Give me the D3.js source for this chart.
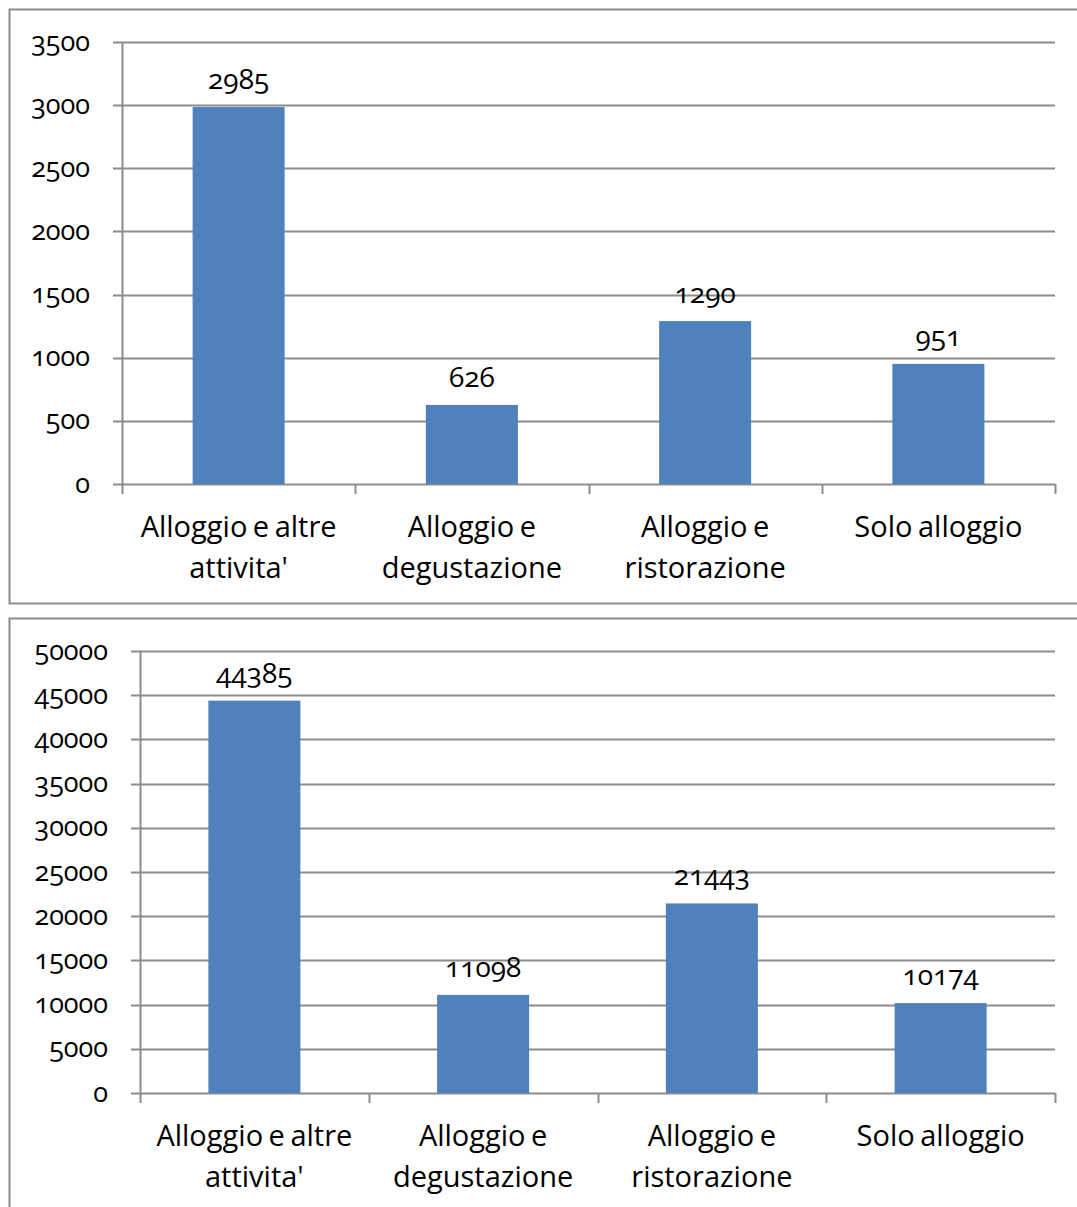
<!DOCTYPE html>
<html>
<head>
<meta charset="utf-8">
<script src="https://cdn.jsdelivr.net/npm/d3@7"></script>
<style>
  body { margin: 0; background: #fff; }
  svg text { font-family: "Open Sans", "Noto Sans", sans-serif; font-variant-numeric: oldstyle-nums; fill: #000; }
</style>
</head>
<body>
<svg width="1077" height="1207"></svg>
<script>
const svg = d3.select("svg");

// DATA
const categories = ["Alloggio e altre attivita'", "Alloggio e degustazione", "Alloggio e ristorazione", "Solo alloggio"];
const strutture = [2985, 626, 1290, 951];
const postiLetto = [44385, 11098, 21443, 10174];
const ticksTop = [0, 500, 1000, 1500, 2000, 2500, 3000, 3500];
const ticksBottom = [0, 5000, 10000, 15000, 20000, 25000, 30000, 35000, 40000, 45000, 50000];

const gridColor = "#8c8c8c";
const barColor = "#4f81bd";

// wrap category labels to fit the band
function wrap(text, width) {
  text.each(function () {
    const t = d3.select(this);
    const words = t.text().split(" ");
    const x = t.attr("x");
    t.text(null);
    let line = [];
    let tspan = t.append("tspan").attr("x", x).attr("dy", 0);
    words.forEach(w => {
      line.push(w);
      tspan.text(line.join(" "));
      if (tspan.node().getComputedTextLength() > width && line.length > 1) {
        line.pop();
        tspan.text(line.join(" "));
        line = [w];
        tspan = t.append("tspan").attr("x", x).attr("dy", 41).text(w);
      }
    });
  });
}

function drawChart(cfg) {
  const { values, ticks, frameTop, frameH, left, right, top, bottom, labelX } = cfg;

  svg.append("rect")
    .attr("x", 9.5).attr("y", frameTop + 0.5)
    .attr("width", 1100).attr("height", frameH)
    .attr("fill", "none").attr("stroke", gridColor).attr("stroke-width", 2);

  const xb = d3.scaleBand().domain(categories).range([left, right]);
  const y = d3.scaleLinear().domain([0, d3.max(ticks)]).range([bottom, top]);

  const g = svg.append("g");

  // gridlines + y ticks
  g.selectAll(".grid").data(ticks).join("line")
    .attr("x1", left - 9).attr("x2", right)
    .attr("y1", d => Math.round(y(d)) + 0.5).attr("y2", d => Math.round(y(d)) + 0.5)
    .attr("stroke", gridColor).attr("stroke-width", 2);

  g.selectAll(".ylab").data(ticks).join("text")
    .attr("x", labelX).attr("y", d => y(d))
    .attr("dy", "0.32em")
    .attr("text-anchor", "end")
    .attr("font-size", 27)
    .text(d => d);

  // y axis
  g.append("line")
    .attr("x1", left + 0.5).attr("x2", left + 0.5)
    .attr("y1", top).attr("y2", bottom + 10)
    .attr("stroke", gridColor).attr("stroke-width", 2);

  // x ticks at band boundaries
  const bounds = categories.map(c => xb(c) + xb.bandwidth());
  g.selectAll(".xtick").data(bounds).join("line")
    .attr("x1", d => Math.round(d) + 0.5).attr("x2", d => Math.round(d) + 0.5)
    .attr("y1", bottom).attr("y2", bottom + 10)
    .attr("stroke", gridColor).attr("stroke-width", 2);

  // bars
  g.selectAll(".bar").data(values).join("rect")
    .attr("x", (d, i) => xb(categories[i]) + xb.bandwidth() / 2 - 46)
    .attr("width", 92)
    .attr("y", d => y(d))
    .attr("height", d => bottom - y(d))
    .attr("fill", barColor);

  // value labels
  g.selectAll(".val").data(values).join("text")
    .attr("x", (d, i) => xb(categories[i]) + xb.bandwidth() / 2)
    .attr("y", d => y(d) - 18)
    .attr("text-anchor", "middle")
    .attr("font-size", 28)
    .text(d => d);

  // category labels
  g.selectAll(".cat").data(categories).join("text")
    .attr("x", d => xb(d) + xb.bandwidth() / 2)
    .attr("y", bottom + 53)
    .attr("text-anchor", "middle")
    .attr("font-size", 29)
    .attr("word-spacing", -2)
    .text(d => d)
    .call(wrap, xb.bandwidth() - 10);
}

drawChart({ values: strutture, ticks: ticksTop, frameTop: 9, frameH: 594, left: 122, right: 1055, top: 42, bottom: 484, labelX: 90 });
drawChart({ values: postiLetto, ticks: ticksBottom, frameTop: 618, frameH: 700, left: 140, right: 1055, top: 651, bottom: 1093, labelX: 108 });
</script>
</body>
</html>
